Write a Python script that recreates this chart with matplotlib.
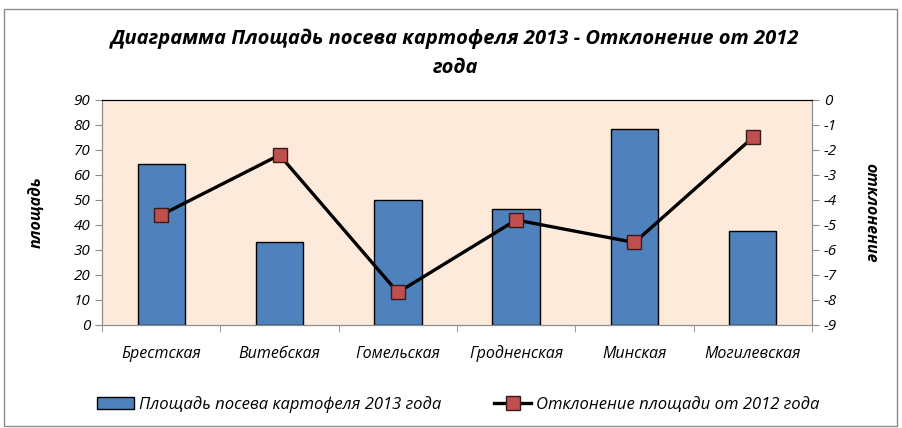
import matplotlib
matplotlib.use("Agg")
import matplotlib.pyplot as plt
from matplotlib.lines import Line2D
from matplotlib.patches import Patch, Rectangle
import numpy as np

plt.rcParams["font.family"] = ["Open Sans", "DejaVu Sans"]
plt.rcParams["axes.unicode_minus"] = False

regions = ["Брестская", "Витебская", "Гомельская", "Гродненская", "Минская", "Могилевская"]
area_2013 = [64.5, 33, 50, 46.5, 78.5, 37.5]
deviation = [-4.6, -2.2, -7.7, -4.8, -5.7, -1.5]

fig = plt.figure(figsize=(9.02, 4.28), dpi=100)
fig.patches.append(Rectangle((0.004, 0.005), 0.99, 0.975, transform=fig.transFigure,
                             fill=False, edgecolor="#8c8c8c", linewidth=1))

ax = fig.add_axes([0.1131, 0.2407, 0.7871, 0.5257])
ax.set_facecolor("#FDEADA")
x = np.arange(len(regions))
ax.bar(x, area_2013, width=0.4, color="#4F81BD", edgecolor="black", linewidth=1, zorder=2)
ax.set_xlim(-0.5, len(regions) - 0.5)
ax.set_ylim(0, 90)
ax.set_yticks(range(0, 91, 10))
ax.set_xticks(x)
ax.set_xticklabels(regions, style="italic", fontsize=11.5, va="baseline")
ax.set_xticks(np.arange(-0.5, len(regions), 1), minor=True)
ax.tick_params(axis="x", which="major", length=0, pad=24)
ax.tick_params(axis="x", which="minor", length=5, color="#8c8c8c")
ax.tick_params(axis="y", length=5, color="#8c8c8c", labelsize=11)
for lbl in ax.get_yticklabels():
    lbl.set_style("italic")
ax.set_ylabel("площадь", fontsize=11.5, fontweight="bold", style="italic", labelpad=20)

ax2 = ax.twinx()
ax2.plot(x, deviation, color="black", linewidth=2.4, marker="s", markersize=9.5,
         markerfacecolor="#C0504D", markeredgecolor="#3a1a1a", markeredgewidth=1, zorder=3)
ax2.set_ylim(-9, 0)
ax2.set_yticks(range(-9, 1))
ax2.tick_params(axis="y", length=5, color="#8c8c8c", labelsize=11)
for lbl in ax2.get_yticklabels():
    lbl.set_style("italic")
ax2.set_ylabel("отклонение", fontsize=11.5, fontweight="bold", style="italic",
               rotation=270, labelpad=30)

for a in (ax, ax2):
    for side in ("left", "right", "bottom"):
        a.spines[side].set_color("#8c8c8c")
    a.spines["top"].set_color("black")

fig.text(0.505, 0.91, "Диаграмма Площадь посева картофеля 2013 - Отклонение от 2012",
         ha="center", va="center", fontsize=14.5, fontweight="bold", style="italic")
fig.text(0.505, 0.84, "года", ha="center", va="center", fontsize=14.5,
         fontweight="bold", style="italic")

handles = [
    Patch(facecolor="#4F81BD", edgecolor="black", linewidth=1),
    Line2D([], [], color="black", linewidth=2.4, marker="s", markersize=9.5,
           markerfacecolor="#C0504D", markeredgecolor="#3a1a1a"),
]
labels = ["Площадь посева картофеля 2013 года", "Отклонение площади от 2012 года"]
fig.legend(handles, labels, loc="center", bbox_to_anchor=(0.508, 0.055), ncol=2,
           frameon=False, prop={"style": "italic", "size": 12},
           handlelength=2.2, handletextpad=0.3, columnspacing=3.2)

fig.savefig("out.png", dpi=100)
